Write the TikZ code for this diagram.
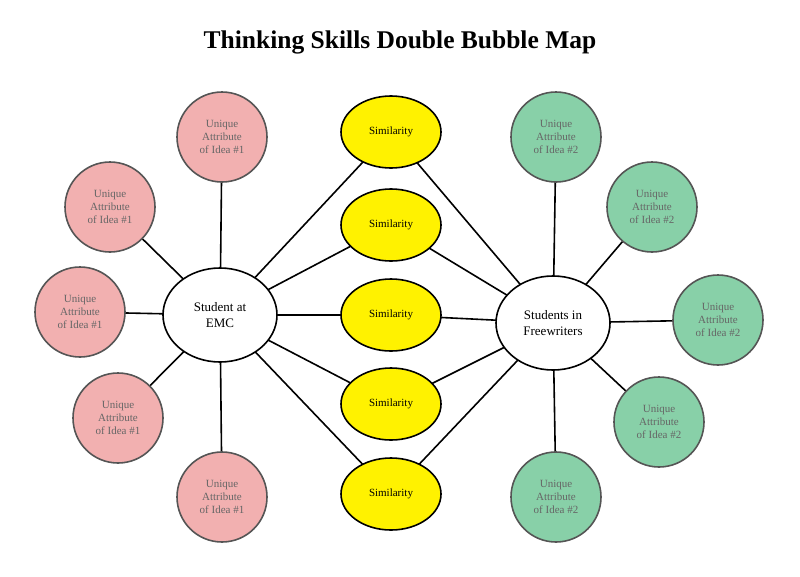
\documentclass[tikz,border=0pt]{standalone}
\usepackage{fontspec}
\setmainfont{Liberation Serif}
\usetikzlibrary{shapes.geometric,backgrounds}
\definecolor{pinkf}{HTML}{F2B0B0}
\definecolor{greenf}{HTML}{88D0A8}
\definecolor{bord}{HTML}{555555}
\begin{document}
\begin{tikzpicture}[x=1pt,y=-1pt,
 attr/.style={circle,draw=bord,line width=1.6pt,minimum size=90pt,inner sep=0pt,align=center,font=\fontsize{11}{13}\selectfont,text=black!60},
 pinkb/.style={attr,fill=pinkf},
 greenb/.style={attr,fill=greenf},
 sim/.style={ellipse,draw=black,line width=1.6pt,fill=yellow,minimum width=100pt,minimum height=72pt,inner sep=0pt,font=\fontsize{11}{13}\selectfont},
 main/.style={ellipse,draw=black,line width=1.6pt,fill=white,minimum width=114pt,minimum height=94pt,inner sep=0pt,align=center,font=\fontsize{13}{16}\selectfont},
 link/.style={line width=1.6pt}]
\useasboundingbox (0,0) rectangle (800,576);
\node (title) at (400,42) {\fontsize{25.5}{28}\selectfont\bfseries Thinking Skills Double Bubble Map};
\node[main] (emc) at (220,315) {Student at\\EMC};
\node[main] (fw) at (553,323) {Students in\\Freewriters};
\foreach \i/\y in {1/132,2/225,3/315,4/404,5/494}
  \node[sim] (s\i) at (391,\y) {Similarity};
\foreach \i/\x/\y in {1/222/137,2/110/207,3/80/312,4/118/418,5/222/497}
  \node[pinkb] (p\i) at (\x,\y) {Unique\\Attribute\\of Idea \#1};
\foreach \i/\x/\y in {1/556/137,2/652/207,3/718/320,4/659/422,5/556/497}
  \node[greenb] (g\i) at (\x,\y) {Unique\\Attribute\\of Idea \#2};
\begin{scope}[on background layer]
\foreach \i in {1,...,5}{
  \draw[link] (emc.center) -- (s\i.center);
  \draw[link] (fw.center) -- (s\i.center);
  \draw[link] (emc.center) -- (p\i.center);
  \draw[link] (fw.center) -- (g\i.center);
}
\end{scope}
\end{tikzpicture}
\end{document}
